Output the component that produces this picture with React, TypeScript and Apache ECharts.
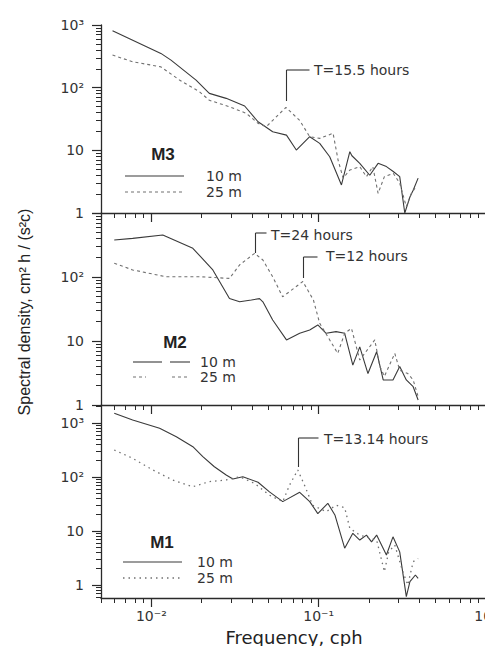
import React, { useEffect, useRef } from 'react';
import * as echarts from 'echarts';

// ---- Data (frequency in cph, spectral density) ----
const m3Freq10 = [0.00586, 0.0114, 0.0131, 0.0185, 0.0222, 0.028, 0.0361, 0.0434, 0.0464, 0.0531, 0.0642, 0.0735, 0.0884, 0.1014, 0.1164, 0.1368, 0.1535, 0.158, 0.176, 0.202, 0.2265, 0.254, 0.279, 0.305, 0.327, 0.351, 0.367, 0.393];
const m3Dens10 = [809, 352, 275, 132, 81, 67.5, 51, 28.6, 25.3, 19.8, 17.5, 10.1, 16.5, 12.9, 7.9, 2.8, 9.5, 8.2, 6.2, 4.0, 6.2, 5.5, 4.6, 3.8, 1.0, 1.8, 2.3, 3.6];
const m3Freq25 = [0.00586, 0.00773, 0.0114, 0.0147, 0.0194, 0.0222, 0.0293, 0.0369, 0.0434, 0.0486, 0.0637, 0.077, 0.0884, 0.1014, 0.1219, 0.1306, 0.14, 0.1535, 0.176, 0.193, 0.2106, 0.2265, 0.247, 0.279, 0.305, 0.334, 0.358, 0.38];
const m3Dens25 = [331, 259, 215, 133, 86, 63, 49.6, 39, 27, 23.8, 48.5, 30, 16.5, 15.5, 18.7, 7.0, 3.6, 4.85, 5.5, 3.8, 5.5, 2.06, 3.8, 4.3, 3.0, 1.26, 2.06, 2.6];

const m2Freq10 = [0.006, 0.00773, 0.0117, 0.0177, 0.0233, 0.0293, 0.0337, 0.0396, 0.0443, 0.0464, 0.0531, 0.0642, 0.077, 0.0884, 0.0988, 0.1108, 0.127, 0.143, 0.16, 0.176, 0.197, 0.222, 0.243, 0.278, 0.305, 0.334, 0.367, 0.393];
const m2Dens10 = [378, 402, 453, 281, 129, 46, 41, 43.7, 46, 41, 21.3, 10.4, 13.2, 14.9, 17.8, 13.2, 14, 13.2, 4.2, 8.1, 3.1, 6.8, 2.46, 2.46, 4.0, 2.46, 1.93, 1.2];
const m2Freq25 = [0.006, 0.00773, 0.0122, 0.0194, 0.0293, 0.0337, 0.0414, 0.0464, 0.0531, 0.0609, 0.0804, 0.093, 0.1014, 0.1164, 0.13, 0.143, 0.157, 0.176, 0.2164, 0.232, 0.247, 0.285, 0.305, 0.341, 0.367, 0.393];
const m2Dens25 = [164, 129, 101, 101, 95, 155, 234, 184, 101, 49, 85, 43.7, 18.9, 10.4, 6.4, 13.2, 15.8, 5.05, 10.4, 4, 2.8, 6.4, 3.5, 3.1, 2.46, 1.35];

const m1Freq10 = [0.006, 0.00773, 0.0112, 0.0141, 0.0177, 0.0203, 0.0238, 0.028, 0.0307, 0.0352, 0.0434, 0.0508, 0.061, 0.077, 0.0884, 0.0988, 0.1134, 0.125, 0.143, 0.16, 0.176, 0.193, 0.207, 0.222, 0.254, 0.278, 0.305, 0.334, 0.351, 0.3785, 0.393];
const m1Dens10 = [1513, 1136, 798, 558, 364, 238, 155, 109, 92, 101, 80, 53, 35, 52, 35, 21, 32.6, 19.8, 4.8, 9.06, 6.8, 8.4, 6.3, 8.4, 3.6, 7.8, 4.1, 0.61, 1.15, 1.53, 1.33];
const m1Freq25 = [0.006, 0.00773, 0.0102, 0.0134, 0.0177, 0.0222, 0.028, 0.0337, 0.0414, 0.0508, 0.061, 0.067, 0.075, 0.0822, 0.092, 0.111, 0.127, 0.143, 0.1535, 0.176, 0.222, 0.247, 0.262, 0.285, 0.318, 0.341, 0.367, 0.393];
const m1Dens25 = [316, 222, 135, 88, 66, 82, 88, 101, 76, 46, 35, 71, 135, 71, 30, 22.8, 30, 27, 11.2, 8.4, 6.8, 1.77, 4.1, 5.5, 1.77, 1.0, 2.7, 3.1];

const panelNames = ['M3', 'M2', 'M1'];
const depthLabels = ['10 m', '25 m'];
const peakLabels = ['T=15.5 hours', 'T=24 hours', 'T=12 hours', 'T=13.14 hours'];
const peakFreqs = [0.0637, 0.0414, 0.0804, 0.075];

const xMajorValues = [0.01, 0.1, 1];
const xMajorLabels = ['10⁻²', '10⁻¹', '10⁰'];
const xMinorValues = [0.005, 0.006, 0.007, 0.008, 0.009, 0.02, 0.03, 0.04, 0.05, 0.06, 0.07, 0.08, 0.09, 0.2, 0.3, 0.4, 0.5, 0.6, 0.7, 0.8, 0.9];
const yMajorValues = [1, 10, 100, 1000];
const yMajorLabels = ['1', '10', '10²', '10³'];
const yMinorValues = [0.6, 0.7, 0.8, 0.9, 2, 3, 4, 5, 6, 7, 8, 9, 20, 30, 40, 50, 60, 70, 80, 90, 200, 300, 400, 500, 600, 700, 800, 900, 2000];

const FONT = 'DejaVu Sans';
const AXIS = '#2a2a2a';
const TXT = '#333';

function fmt(values: number[], labels: string[]) {
  return (v: number) => {
    for (let i = 0; i < values.length; i++) {
      if (Math.abs(Math.log10(v) - Math.log10(values[i])) < 1e-6) return labels[i];
    }
    return '';
  };
}

function zip(f: number[], d: number[]) {
  return f.map((x, i) => [x, d[i]]);
}

const grids = [
  { left: 101, top: 25, width: 385, height: 188, ymin: 1, ymax: 1000, yLabels: [1, 10, 100, 1000] },
  { left: 101, top: 213, width: 385, height: 192, ymin: 1, ymax: 1000, yLabels: [1, 10, 100] },
  { left: 101, top: 405, width: 385, height: 193, ymin: 0.574, ymax: 2154, yLabels: [1, 10, 100, 1000] },
];

export default function App() {
  const ref = useRef<HTMLDivElement>(null);
  useEffect(() => {
    if (!ref.current) return;
    const chart = echarts.init(ref.current, undefined, { renderer: 'svg' });
    const xAxis: any[] = [];
    const yAxis: any[] = [];
    grids.forEach((g, i) => {
      xAxis.push({
        type: 'log', gridIndex: i, min: 0.005, max: 1, position: 'bottom',
        axisLine: { show: true, onZero: false, lineStyle: { color: AXIS, width: 1.3 } },
        axisTick: { show: true, length: 9, customValues: xMajorValues, lineStyle: { color: AXIS, width: 1.2 } },
        axisLabel: { show: i === 2, customValues: xMajorValues, formatter: fmt(xMajorValues, xMajorLabels), margin: 11, fontFamily: FONT, fontSize: 14, color: TXT, hideOverlap: false },
        splitLine: { show: false },
      });
      xAxis.push({
        type: 'log', gridIndex: i, min: 0.005, max: 1, position: 'bottom',
        axisLine: { show: false, onZero: false },
        axisTick: { show: true, length: 5, customValues: xMinorValues, lineStyle: { color: AXIS, width: 1 } },
        axisLabel: { show: false },
        splitLine: { show: false },
      });
      yAxis.push({
        type: 'log', gridIndex: i, min: g.ymin, max: g.ymax, position: 'left',
        axisLine: { show: true, onZero: false, lineStyle: { color: AXIS, width: 1.3 } },
        axisTick: { show: true, length: 9, customValues: yMajorValues, lineStyle: { color: AXIS, width: 1.2 } },
        axisLabel: { show: true, customValues: g.yLabels, formatter: fmt(yMajorValues, yMajorLabels), margin: 17, fontFamily: FONT, fontSize: 14, color: TXT },
        splitLine: { show: false },
      });
      yAxis.push({
        type: 'log', gridIndex: i, min: g.ymin, max: g.ymax, position: 'left',
        axisLine: { show: false, onZero: false },
        axisTick: { show: true, length: 5, customValues: yMinorValues, lineStyle: { color: AXIS, width: 1 } },
        axisLabel: { show: false },
        splitLine: { show: false },
      });
    });

    const solid = { color: '#3a3a3a', width: 1.1, type: 'solid' };
    const dashed = { color: '#707070', width: 1.1, type: [3, 3] };
    const dotted = { color: '#707070', width: 1.3, type: [1.5, 4] };
    const mk = (data: number[][], gi: number, ls: any, name: string) => ({
      type: 'line', name, data, xAxisIndex: gi * 2, yAxisIndex: gi * 2,
      showSymbol: false, symbol: 'none', smooth: false, lineStyle: ls, silent: true,
    });
    const series = [
      mk(zip(m3Freq10, m3Dens10), 0, solid, 'M3 10 m'),
      mk(zip(m3Freq25, m3Dens25), 0, dashed, 'M3 25 m'),
      mk(zip(m2Freq10, m2Dens10), 1, solid, 'M2 10 m'),
      mk(zip(m2Freq25, m2Dens25), 1, dashed, 'M2 25 m'),
      mk(zip(m1Freq10, m1Dens10), 2, solid, 'M1 10 m'),
      mk(zip(m1Freq25, m1Dens25), 2, dotted, 'M1 25 m'),
    ];

    chart.setOption({
      animation: false,
      backgroundColor: '#fff',
      grid: grids.map((g) => ({ left: g.left, top: g.top, width: g.width, height: g.height, containLabel: false, outerBoundsMode: 'none' })),
      xAxis,
      yAxis,
      series,
    });

    // annotation & legend graphics
    const gfx: any[] = [];
    const line = (x1: number, y1: number, x2: number, y2: number, style: any) => ({
      type: 'line', shape: { x1, y1, x2, y2 }, style: { stroke: '#333', lineWidth: 1.1, ...style }, silent: true,
    });
    const text = (x: number, y: number, t: string, extra: any = {}) => ({
      type: 'text', x, y, silent: true,
      style: { text: t, fill: TXT, fontFamily: FONT, fontSize: 14, verticalAlign: 'middle', align: 'left', ...extra },
    });
    // legends (sample segments)
    const leg = [
      { nx: 163, ny: 154, ly1: 176, ly2: 192, seg1: [[125, 184]], seg2: [[125, 185]], tx: 206, style: dashed },
      { nx: 175, ny: 342, ly1: 362, ly2: 377, seg1: [[133, 162], [170, 190]], seg2: [[133, 146], [172, 190]], tx: 200, style: dashed },
      { nx: 162, ny: 542, ly1: 562, ly2: 578, seg1: [[123, 182]], seg2: [[123, 182]], tx: 197, style: dotted },
    ];
    leg.forEach((l, i) => {
      gfx.push(text(l.nx, l.ny, panelNames[i], { align: 'center', fontSize: 17, fontWeight: 'bold', fontFamily: 'Liberation Sans', fill: '#222' }));
      l.seg1.forEach((s) => gfx.push(line(s[0], l.ly1, s[1], l.ly1, { stroke: solid.color, lineWidth: 1.1 })));
      l.seg2.forEach((s) => gfx.push(line(s[0], l.ly2, s[1], l.ly2, { stroke: l.style.color, lineWidth: l.style.width, lineDash: l.style.type })));
      gfx.push(text(l.tx, l.ly1, depthLabels[0]));
      gfx.push(text(l.tx, l.ly2, depthLabels[1]));
    });
    // peak annotations
    const ann = [
      { s: 0, top: 70, bottom: 101, hLen: 23, tx: 314, ty: 70 },
      { s: 2, top: 233, bottom: 253, hLen: 11, tx: 271, ty: 235 },
      { s: 2, top: 257, bottom: 278, hLen: 14, tx: 326, ty: 256 },
      { s: 4, top: 438, bottom: 467, hLen: 20, tx: 324, ty: 439 },
    ];
    ann.forEach((a, i) => {
      const p = chart.convertToPixel({ seriesIndex: a.s }, [peakFreqs[i], 10]) as number[];
      const x = Math.round(p[0]) + 0.5;
      gfx.push(line(x, a.bottom, x, a.top, {}));
      gfx.push(line(x, a.top, x + a.hLen, a.top, {}));
      gfx.push(text(a.tx, a.ty, peakLabels[i]));
    });
    // axis titles
    gfx.push(text(294, 637, 'Frequency, cph', { align: 'center', fontSize: 18, fill: '#222' }));
    gfx.push({
      type: 'text', x: 24, y: 312, rotation: Math.PI / 2, silent: true,
      style: { text: 'Spectral density, cm² h / (s²c)', fill: '#222', fontFamily: 'Liberation Sans', fontSize: 16, align: 'center', verticalAlign: 'middle' },
    });
    chart.setOption({ graphic: gfx });

    return () => chart.dispose();
  }, []);
  return <div ref={ref} style={{ position: 'fixed', left: 0, top: 0, width: 485, height: 646, background: '#fff' }} />;
}
